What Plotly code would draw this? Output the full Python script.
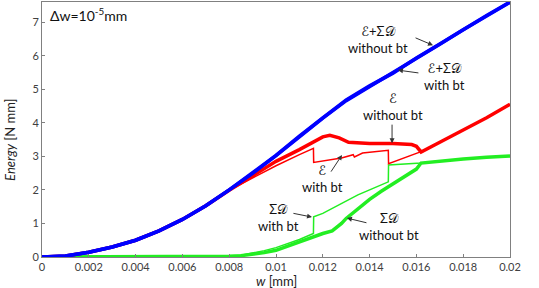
import plotly.graph_objects as go

# ---- data (w in mm, energy in N mm) ----
w_blue = [0, 0.001, 0.002, 0.003, 0.004, 0.005, 0.006, 0.007, 0.008, 0.009, 0.010,
          0.011, 0.0118, 0.012, 0.013, 0.014, 0.015, 0.0155, 0.016, 0.017, 0.018, 0.019, 0.020]
E_SD_without = [0, 0.03, 0.14, 0.30, 0.50, 0.78, 1.12, 1.53, 2.00, 2.50, 3.03,
                3.60, 4.05, 4.15, 4.68, 5.10, 5.48, 5.72, 5.93, 6.35, 6.78, 7.20, 7.60]
E_SD_with = [0, 0.03, 0.14, 0.30, 0.50, 0.78, 1.12, 1.53, 2.00, 2.49, 3.02,
             3.58, 4.02, 4.14, 4.66, 5.08, 5.47, 5.70, 5.92, 6.34, 6.77, 7.19, 7.59]

w_E_without = [0, 0.001, 0.002, 0.003, 0.004, 0.005, 0.006, 0.007, 0.008, 0.009, 0.010,
               0.011, 0.0115, 0.012, 0.0123, 0.0127, 0.0131, 0.014, 0.015, 0.0158, 0.016,
               0.0162, 0.017, 0.018, 0.019, 0.020]
E_without = [0, 0.03, 0.14, 0.30, 0.50, 0.78, 1.12, 1.53, 1.99, 2.42, 2.85,
             3.20, 3.38, 3.58, 3.63, 3.55, 3.42, 3.38, 3.38, 3.35, 3.30,
             3.13, 3.42, 3.78, 4.15, 4.55]

w_E_with = [0, 0.001, 0.002, 0.003, 0.004, 0.005, 0.006, 0.007, 0.008, 0.009, 0.010,
            0.011, 0.0116, 0.01161, 0.012, 0.0128, 0.0133, 0.01335, 0.0137, 0.014,
            0.0145, 0.0148, 0.01481, 0.0162, 0.017, 0.018, 0.019, 0.020]
E_with = [0, 0.03, 0.14, 0.30, 0.50, 0.78, 1.12, 1.53, 1.99, 2.36, 2.72,
          3.05, 3.24, 2.82, 2.86, 2.95, 3.05, 2.98, 3.10, 3.12,
          3.15, 3.18, 2.78, 3.14, 3.42, 3.78, 4.15, 4.55]

w_SD_without = [0, 0.002, 0.004, 0.006, 0.007, 0.008, 0.0085, 0.009, 0.0095, 0.010, 0.011,
                0.012, 0.0124, 0.0128, 0.013, 0.0135, 0.014, 0.0145, 0.015, 0.0155, 0.016,
                0.0162, 0.017, 0.018, 0.019, 0.020]
SD_without = [0, 0.0, 0.0, 0.0, 0.005, 0.02, 0.04, 0.08, 0.13, 0.20, 0.46,
              0.70, 0.78, 1.00, 1.15, 1.45, 1.72, 1.96, 2.18, 2.40, 2.62,
              2.80, 2.86, 2.92, 2.97, 3.01]

w_SD_with = [0, 0.002, 0.004, 0.006, 0.007, 0.008, 0.0085, 0.009, 0.0095, 0.010, 0.011,
             0.0116, 0.01161, 0.012, 0.0125, 0.013, 0.0135, 0.014, 0.0145, 0.0148, 0.01481,
             0.0155, 0.0162, 0.017, 0.018, 0.019, 0.020]
SD_with = [0, 0.0, 0.0, 0.0, 0.005, 0.02, 0.05, 0.11, 0.19, 0.28, 0.52,
           0.70, 1.20, 1.30, 1.48, 1.65, 1.85, 2.00, 2.15, 2.24, 2.74,
           2.77, 2.80, 2.86, 2.92, 2.97, 3.01]

x_ticks = [0, 0.002, 0.004, 0.006, 0.008, 0.01, 0.012, 0.014, 0.016, 0.018, 0.02]
x_ticklabels = ["0", "0.002", "0.004", "0.006", "0.008", "0.01", "0.012", "0.014", "0.016", "0.018", "0.02"]
y_ticks = [0, 1, 2, 3, 4, 5, 6, 7]

BLUE = "#0000ff"
RED = "#ff0000"
GREEN = "#22ee22"

fig = go.Figure()
fig.add_trace(go.Scatter(x=w_SD_with, y=SD_with, mode="lines", line=dict(color=GREEN, width=1.5)))
fig.add_trace(go.Scatter(x=w_SD_without, y=SD_without, mode="lines", line=dict(color=GREEN, width=3.5)))
fig.add_trace(go.Scatter(x=w_E_with, y=E_with, mode="lines", line=dict(color=RED, width=1.5)))
fig.add_trace(go.Scatter(x=w_E_without, y=E_without, mode="lines", line=dict(color=RED, width=3.5)))
fig.add_trace(go.Scatter(x=w_blue, y=E_SD_with, mode="lines", line=dict(color=BLUE, width=3.5)))
fig.add_trace(go.Scatter(x=w_blue, y=E_SD_without, mode="lines", line=dict(color=BLUE, width=3.5)))

FONT = "Lato, Open Sans, DejaVu Sans, sans-serif"
txt = dict(size=13, color="#111111", family=FONT)

labels = [
    ("ℰ+Σ𝒟<br>without bt", 0.01436, 6.49),
    ("ℰ+Σ𝒟<br>with bt", 0.01718, 5.39),
    ("ℰ<br>without bt", 0.0150, 4.49),
    ("ℰ<br>with bt", 0.01197, 2.35),
    ("Σ𝒟<br>with bt", 0.01009, 1.19),
    ("Σ𝒟<br>without bt", 0.01483, 0.92),
]
annotations = []
for t, x, y in labels:
    annotations.append(dict(text=t, x=x, y=y, xref="x", yref="y", showarrow=False,
                            font=txt, align="center"))

arrows = [
    ((0.0159, 6.55), (0.01671, 6.31)),
    ((0.01615, 5.48), (0.01521, 5.57)),
    ((0.01496, 3.99), (0.01496, 3.39)),
    ((0.01231, 2.50), (0.01282, 3.04)),
    ((0.01068, 1.31), (0.01154, 1.19)),
    ((0.01393, 1.01), (0.01303, 1.16)),
]
for (tx, ty), (hx, hy) in arrows:
    annotations.append(dict(text="", x=hx, y=hy, ax=tx, ay=ty, xref="x", yref="y",
                            axref="x", ayref="y", showarrow=True, arrowhead=2,
                            arrowsize=1, arrowwidth=1, arrowcolor="#333333"))

annotations.append(dict(text="Δw=10<sup>-5</sup>mm", x=0.012, y=0.995, xref="paper", yref="paper",
                        xanchor="left", yanchor="top", showarrow=False,
                        font=dict(size=14, color="#111111", family=FONT)))

# axis titles as annotations for exact placement
annotations.append(dict(text="<i>w</i> [mm]", x=0.5, y=-0.095, xref="paper", yref="paper",
                        xanchor="center", yanchor="middle", showarrow=False,
                        font=dict(size=13, color="#222222", family=FONT)))
annotations.append(dict(text="<i>Energy</i> [N mm]", x=-0.068, y=0.46, xref="paper", yref="paper",
                        xanchor="center", yanchor="middle", showarrow=False, textangle=-90,
                        font=dict(size=13, color="#222222", family=FONT)))

fig.update_layout(
    width=539, height=288,
    margin=dict(l=42, r=29, t=2, b=31, autoexpand=False),
    paper_bgcolor="white", plot_bgcolor="white",
    showlegend=False,
    font=dict(family=FONT, size=11, color="#404040"),
    annotations=annotations,
)
fig.update_xaxes(range=[0, 0.02], tickvals=x_ticks, ticktext=x_ticklabels, automargin=False,
                 showline=True, mirror=True, linecolor="#808080", linewidth=1,
                 ticks="inside", ticklen=3, tickcolor="#808080", showgrid=False, zeroline=False,
                 tickfont=dict(size=11, color="#404040"))
fig.update_yaxes(range=[0, 7.6], tickvals=y_ticks, automargin=False,
                 showline=True, mirror=True, linecolor="#808080", linewidth=1,
                 ticks="inside", ticklen=3, tickcolor="#808080", showgrid=False, zeroline=False,
                 tickfont=dict(size=11, color="#404040"))

fig.write_html("out.html", config={"displayModeBar": False},
               post_script="document.body.style.margin='0';document.body.style.padding='0';document.body.style.overflow='hidden';")
